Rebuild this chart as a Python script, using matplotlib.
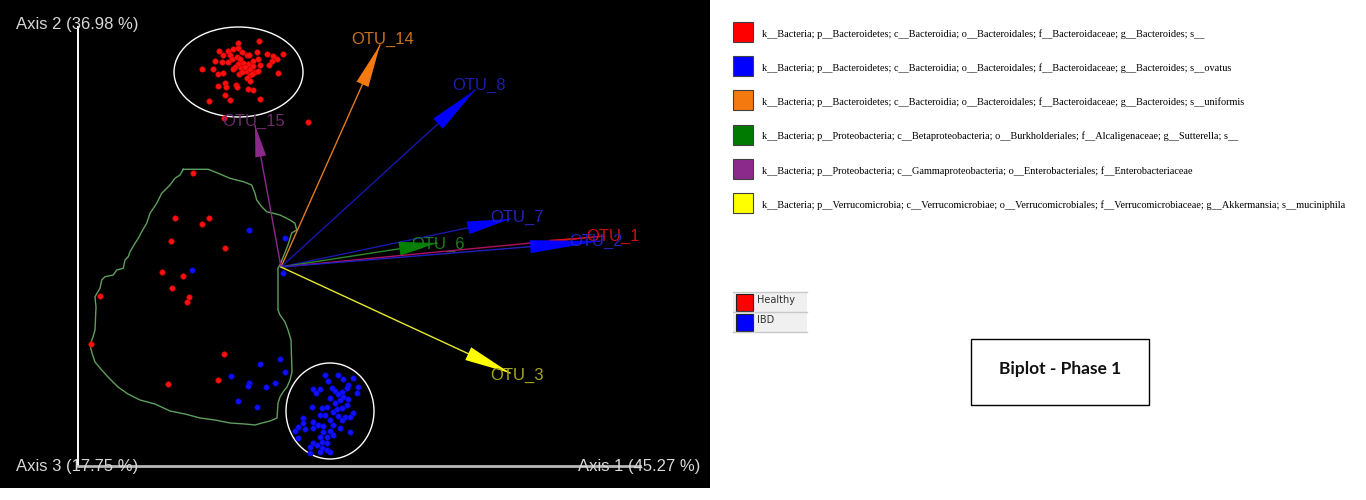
import matplotlib
matplotlib.use("Agg")
import matplotlib.pyplot as plt
from matplotlib.patches import Ellipse, Rectangle

# sample scores in screen units (x to the right, y down)
healthy_x = [259.3, 238.3, 219.3, 228.3, 233.3, 238.3, 241.7, 246.7, 230, 223.3, 231.7, 236.7, 240,
             249.3, 257.3, 258.3, 266.7, 273.3, 277.3, 283.3, 271.7, 269.3, 260, 252.7, 248.3, 243.3,
             238.3, 235, 228.3, 215, 221.7, 213.3, 218.3, 223.3, 202.3, 233.3, 240.7, 239.3, 246, 250,
             253.3, 255, 258.3, 250, 247.3, 278.3, 225, 226, 218.3, 236, 236.7, 250, 253.3, 260, 225,
             230, 209.3, 248.3, 251.7, 241.7, 245, 224.3, 308,
             193.3, 175, 209.3, 202.3, 170.7, 225.3, 161.7, 183.3, 171.7, 189, 187.3, 100, 91,
             224.3, 167.7, 217.7]
healthy_y = [41.3, 42.7, 51.3, 51.3, 49.3, 48, 52, 54.7, 55.3, 55.3, 58.7, 57, 59.3,
             55.3, 52, 58.7, 54.3, 56.3, 58.7, 54.3, 61.3, 65.3, 65.3, 61.3, 63.7, 62.7,
             63.7, 67, 62, 61.3, 62, 69.3, 73.7, 72.7, 69.3, 68.7, 68, 73.7, 71.3, 68.7,
             66, 72, 71.3, 75.3, 78, 72.7, 82.7, 87, 86, 84.7, 87, 81.3, 90.3, 98.7, 94.7,
             100.3, 101.3, 88.7, 73.7, 72, 67, 118, 122,
             173.3, 218.3, 218.3, 224, 241, 247.7, 271.7, 276.3, 288.3, 297, 302.3, 296, 344.3,
             354, 384.3, 380.3]
ibd_x = [325, 338.3, 343.3, 352.7, 328.3, 348.3, 358.3, 313.3, 320, 316, 331.7, 335, 341.7, 346.7,
         356.7, 330, 338.3, 343.3, 348.3, 340, 335, 346.7, 312.3, 321.7, 326.7, 341.7, 336.7, 333.3,
         353.3, 320, 325, 338.3, 345, 330, 350, 341.7, 303.3, 303.3, 313.3, 318.3, 323.3, 333.3, 340,
         298.3, 305, 313.3, 295, 323.3, 330, 350, 320, 326.7, 333.3, 298.3, 313.3, 316.7, 321.7, 326.7,
         310, 321.7, 326.7, 330, 310, 320,
         249.3, 284.7, 192.3, 282.7, 260, 280.3, 284.7, 231.3, 249.3, 248.3, 265.7, 275, 238, 257.3]
ibd_y = [375, 375, 379, 377.7, 381, 385, 387.3, 389.3, 389.3, 393.3, 387.7, 391, 391.7, 388.3,
         393.3, 397.7, 394.3, 396.7, 399.3, 400, 403.3, 405, 406.7, 407.7, 406.7, 407.7, 409, 411.7,
         413.3, 415, 415, 416, 416.7, 420, 416.7, 420, 418.3, 423.3, 421.7, 425, 425.7, 425, 428.3,
         426.7, 429, 428.3, 431, 431.7, 431, 431.7, 436.7, 436.7, 435, 438.3, 443.3, 445, 441.7, 443.3,
         446.7, 448.3, 450, 451.7, 453.3, 451.7,
         230, 238.3, 269.7, 273.3, 364.3, 359.3, 372, 375.7, 383.3, 386.3, 386.7, 383, 400.7, 407]

# outline drawn round the scattered samples
hull_x = [183.3, 208.3, 216.7, 230, 243.3, 251.7, 255, 256.7, 261.7, 266.7, 280, 290, 295, 296.7,
          291.7, 288, 280, 278, 278, 280, 285, 288, 291, 292, 290, 287, 283, 280, 278, 277, 270,
          262, 255, 245, 230, 215, 200, 185, 170, 155, 140, 128, 118, 108, 100, 95, 92, 90, 93,
          95, 96, 95, 100, 101.7, 105, 113.3, 116.7, 123.3, 125, 128.3, 130, 135, 138.3, 141.7,
          146.7, 150, 156.7, 161.7, 170, 175, 180, 183.3]
hull_y = [169.3, 169.3, 172.7, 178.3, 181.7, 185, 193.3, 200, 206.7, 211.7, 215, 220, 223.3, 230,
          233, 245, 265, 268, 310, 315, 322, 330, 340, 372, 380, 387, 392, 397, 403, 418, 421,
          423, 425, 424, 423, 420, 418, 414, 411, 404, 400, 394, 387, 377, 368, 362, 353, 345, 337,
          330, 307, 296.7, 288.3, 280, 276.7, 275, 270, 268.3, 260, 256.7, 251.7, 243.3, 238.3, 231.7,
          223.3, 213.3, 203.3, 193.3, 185, 178.3, 175, 169.3]

# OTU loading vectors: start at the origin, end at the tip
origin_x, origin_y = 281, 267
otu_names = ["OTU_14", "OTU_8", "OTU_15", "OTU_7", "OTU_6", "OTU_1", "OTU_2", "OTU_3"]
otu_x = [380, 475, 255, 510, 437, 604, 600, 510]
otu_y = [45, 90, 125, 219, 243, 236, 241, 373]

axis_labels = ["Axis 1 (45.27 %)", "Axis 2 (36.98 %)", "Axis 3 (17.75 %)"]

taxa = [
    "k__Bacteria; p__Bacteroidetes; c__Bacteroidia; o__Bacteroidales; f__Bacteroidaceae; g__Bacteroides; s__",
    "k__Bacteria; p__Bacteroidetes; c__Bacteroidia; o__Bacteroidales; f__Bacteroidaceae; g__Bacteroides; s__ovatus",
    "k__Bacteria; p__Bacteroidetes; c__Bacteroidia; o__Bacteroidales; f__Bacteroidaceae; g__Bacteroides; s__uniformis",
    "k__Bacteria; p__Proteobacteria; c__Betaproteobacteria; o__Burkholderiales; f__Alcaligenaceae; g__Sutterella; s__",
    "k__Bacteria; p__Proteobacteria; c__Gammaproteobacteria; o__Enterobacteriales; f__Enterobacteriaceae",
    "k__Bacteria; p__Verrucomicrobia; c__Verrucomicrobiae; o__Verrucomicrobiales; f__Verrucomicrobiaceae; g__Akkermansia; s__muciniphila",
]
taxa_colors = ["#ff0000", "#0000ff", "#f47a10", "#007a00", "#8c2a8c", "#ffff00"]

groups = ["Healthy", "IBD"]
group_colors = ["#ff0000", "#0000ff"]
title = "Biplot - Phase 1"

# styling for the arrows
arrow_colors = ["#f47a10", "#0000ff", "#8c2a8c", "#0000ff", "#008000", "#e01010", "#0000ff", "#ffff00"]
line_colors = ["#e07a20", "#1818b0", "#8c2a8c", "#1818b0", "#2a8a2a", "#b01060", "#2020c0", "#e8e830"]
label_colors = ["#c8701e", "#1c1cb0", "#6a2a6a", "#2424b8", "#1e7a1e", "#c81010", "#2424b8", "#a8a820"]
head_len = [43, 50, 32, 43, 38, 55, 70, 46]
head_wid = [13, 14, 11, 13, 14, 3, 13, 14]
label_pos = [(351, 39), (452, 85), (222, 121), (490, 217), (411, 244), (586, 236), (569, 241), (490, 375)]

fig = plt.figure(figsize=(13.66, 5.0), dpi=100)
fig.patch.set_facecolor("white")

W, H = 1366, 500
ax = fig.add_axes([0, (H - 488) / H, 710 / W, 488 / H])
ax.set_facecolor("black")
ax.set_xlim(0, 710)
ax.set_ylim(488, 0)
ax.set_xticks([])
ax.set_yticks([])
for sp in ax.spines.values():
    sp.set_visible(False)

sans = ["Liberation Sans", "DejaVu Sans"]

# axes of the 3d view
ax.plot([78, 78], [27, 466], color="white", lw=1.4, zorder=1)
ax.plot([78, 640], [466, 466], color="#b8b8b8", lw=2, zorder=1)
ax.text(578, 466, axis_labels[0], color="#d8d8d8", fontsize=12, family=sans, va="center", zorder=6)
ax.text(16, 24, axis_labels[1], color="#d8d8d8", fontsize=12, family=sans, va="center", zorder=6)
ax.text(16, 466, axis_labels[2], color="#d8d8d8", fontsize=12, family=sans, va="center", zorder=6)

ax.plot(hull_x, hull_y, color="#5e9e5e", lw=1, zorder=2)

ax.add_patch(Ellipse((238.5, 72), 129, 90, fill=False, ec="white", lw=1, zorder=3))
ax.add_patch(Ellipse((330, 411), 88, 96, fill=False, ec="white", lw=1, zorder=3))

ax.plot(healthy_x, healthy_y, "o", color="#ff1010", ms=4, mec="#c00000", mew=0.4, zorder=4)
ax.plot(ibd_x, ibd_y, "o", color="#1010ff", ms=4, mec="#0000c0", mew=0.4, zorder=4)

for i, name in enumerate(otu_names):
    dx = otu_x[i] - origin_x
    dy = otu_y[i] - origin_y
    ax.plot([origin_x, otu_x[i]], [origin_y, otu_y[i]], color=line_colors[i], lw=1, zorder=5)
    ax.arrow(origin_x, origin_y, dx, dy, width=0.01, head_width=head_wid[i],
             head_length=head_len[i], length_includes_head=True, fc=arrow_colors[i],
             ec="none", zorder=5)
    ax.text(label_pos[i][0], label_pos[i][1], name, color=label_colors[i], fontsize=12,
            family=sans, va="center", zorder=5)

# right hand side: legends and title drawn in figure pixels
ov = fig.add_axes([0, 0, 1, 1], facecolor="none")
ov.set_xlim(0, W)
ov.set_ylim(H, 0)
ov.axis("off")

for i, label in enumerate(taxa):
    yc = 32 + 34.2 * i
    ov.add_patch(Rectangle((733, yc - 10), 20, 20, fc=taxa_colors[i], ec="#404040", lw=0.8))
    ov.text(762, yc + 2, label, fontsize=7.35, family=["Liberation Serif", "DejaVu Serif"],
            color="black", va="center")

ov.add_patch(Rectangle((733, 292), 74, 41, fc="#f0f0f0", ec="none"))
for yl in [292, 312, 332]:
    ov.plot([733, 807], [yl, yl], color="#c8c8c8", lw=1)
ov.plot([753.5, 753.5], [292, 332], color="#e0e0e0", lw=0.8)
for i, g in enumerate(groups):
    y0 = 294 + 20 * i
    ov.add_patch(Rectangle((736, y0), 17, 17, fc=group_colors[i], ec="#202020", lw=0.8))
    ov.text(757, y0 + 6, g, fontsize=7, family="DejaVu Sans", color="#303030", va="center")

ov.add_patch(Rectangle((971, 339), 178, 66, fill=False, ec="black", lw=1))
ov.text(1060, 369, title, fontsize=12.5, family=["Lato", "DejaVu Sans"], weight="bold",
        color="#111111", ha="center", va="center")

fig.savefig("out.png", dpi=100)
